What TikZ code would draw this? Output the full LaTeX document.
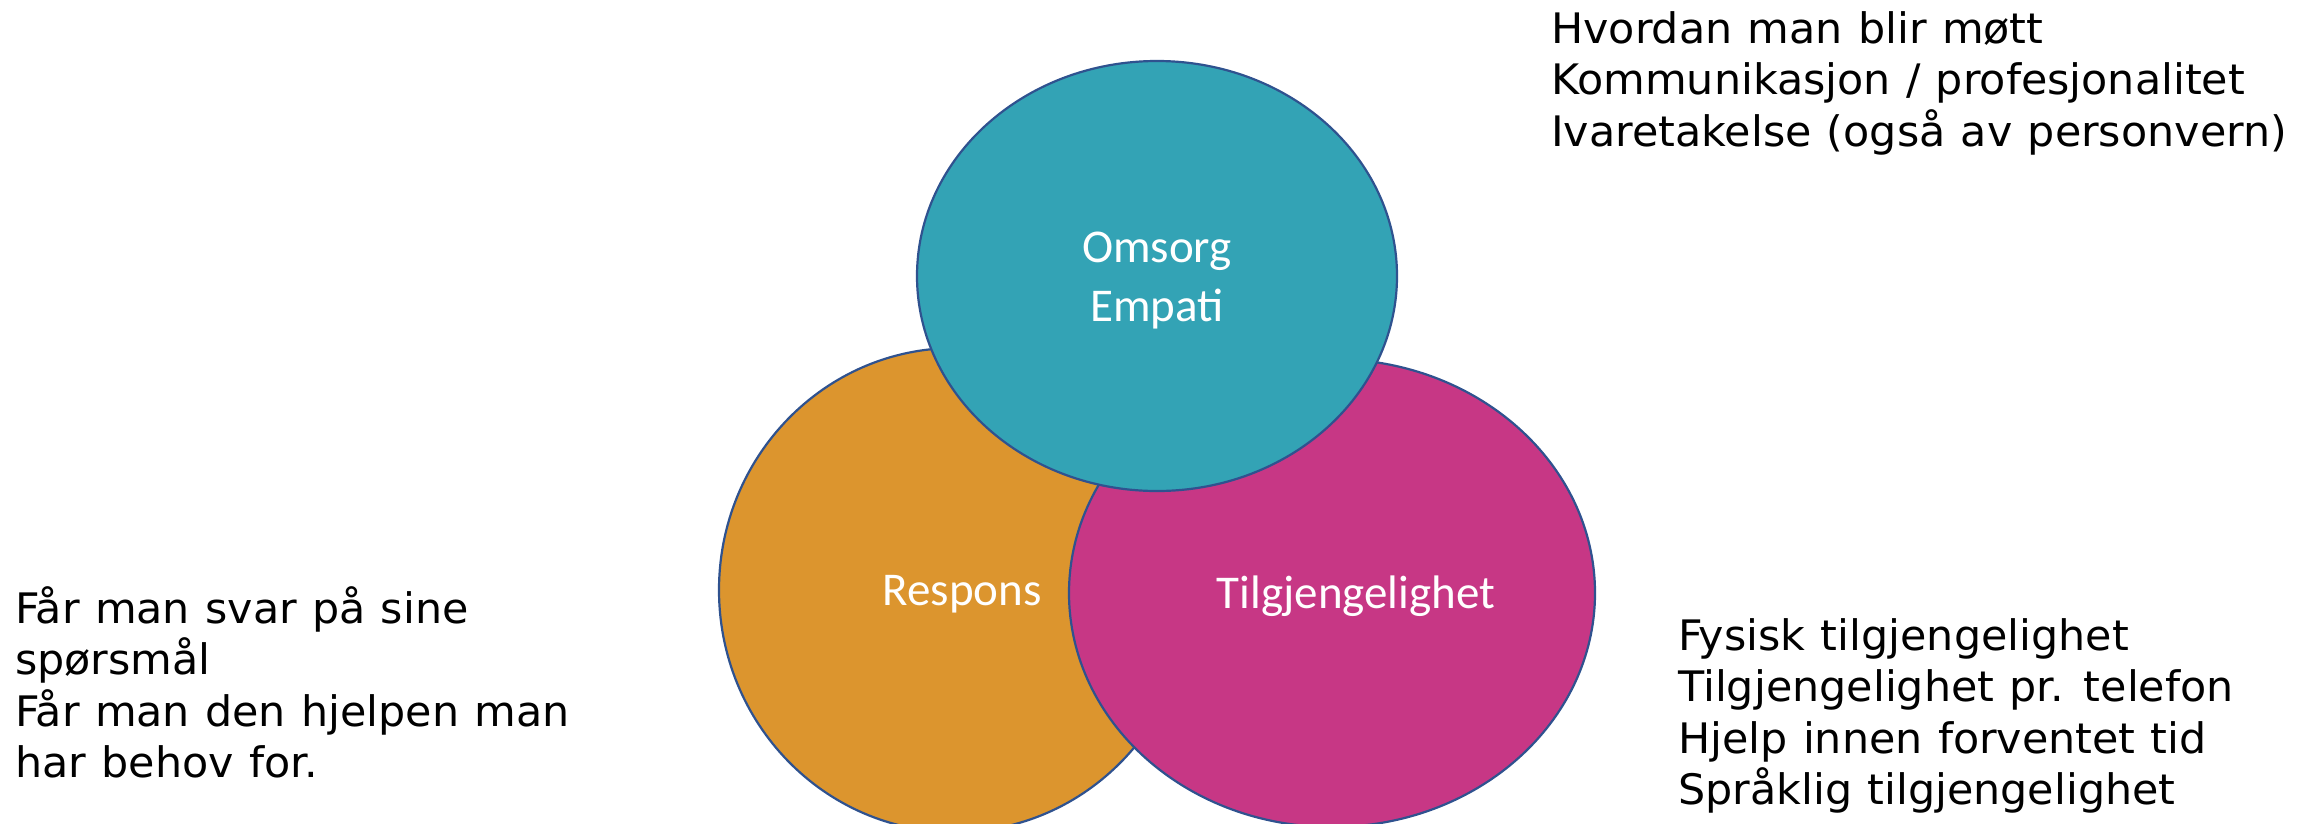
\documentclass[tikz,border=0pt]{standalone}
\usepackage{fontspec}
\setmainfont{DejaVu Sans}[FakeStretch=1.02, WordSpace=1.12]
\newfontfamily\lblfont{Carlito}
\usetikzlibrary{shapes.geometric}
\definecolor{tealfill}{RGB}{51,163,181}
\definecolor{orangefill}{RGB}{220,149,46}
\definecolor{magentafill}{RGB}{199,55,133}
\definecolor{rim}{RGB}{47,82,143}
\tikzset{
  blob/.style={ellipse, draw=rim, line width=2.2pt, inner sep=0pt},
  lbl/.style={text=white, font=\lblfont\fontsize{47}{59}\selectfont, align=center, inner sep=0pt},
  note/.style={text=black, font=\fontsize{42}{51.5}\selectfont, align=left, inner sep=0pt, anchor=north west}
}
\begin{document}
\begin{tikzpicture}[x=1pt,y=-1pt]
  \useasboundingbox (0,0) rectangle (2318,823);
  % three overlapping ellipses, back to front
  \node[blob, fill=orangefill, minimum width=472pt, minimum height=484pt] (resp) at (955,590) {};
  \node[blob, fill=magentafill, minimum width=526pt, minimum height=468pt] (tilg) at (1332,593) {};
  \node[blob, fill=tealfill, minimum width=480pt, minimum height=430pt] (oms) at (1157,276) {};
  % labels inside the ellipses
  \node[lbl] (omslbl) at (1157,281) {Omsorg\\Empati};
  \node[lbl] (resplbl) at (962,594) {Respons};
  \node[lbl] (tilglbl) at (1356,596) {Tilgjengelighet};
  % explanatory notes
  \node[note] (omsnote) at (1551,11) {Hvordan man blir møtt\\Kommunikasjon / profesjonalitet\\Ivaretakelse (også av personvern)};
  \node[note] (respnote) at (15,586) {Får man svar på sine\\spørsmål\\Får man den hjelpen man\\har behov for.};
  \node[note] (tilgnote) at (1678,618) {Fysisk tilgjengelighet\\Tilgjengelighet pr. telefon\\Hjelp innen forventet tid\\Språklig tilgjengelighet};
\end{tikzpicture}
\end{document}
